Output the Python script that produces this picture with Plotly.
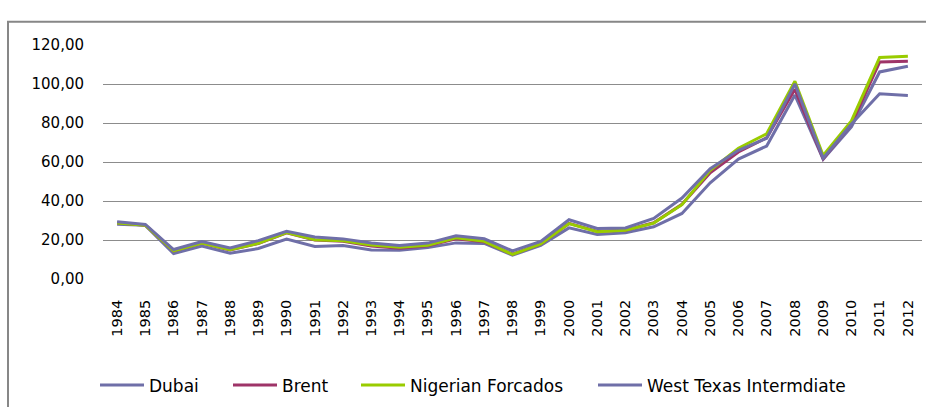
import plotly.graph_objects as go

years = [str(y) for y in range(1984, 2013)]

dubai = [28.06, 27.53, 13.10, 16.95, 13.27, 15.62, 20.45, 16.63, 17.17, 14.93,
         14.74, 16.10, 18.52, 18.23, 12.21, 17.25, 26.20, 22.81, 23.74, 26.78,
         33.64, 49.35, 61.50, 68.19, 94.34, 61.39, 78.06, 106.18, 109.08]
brent = [28.78, 27.56, 14.43, 18.44, 14.92, 18.23, 23.73, 20.00, 19.32, 16.97,
         15.82, 17.02, 20.67, 19.09, 12.72, 17.97, 28.50, 24.44, 25.02, 28.83,
         38.27, 54.52, 65.14, 72.39, 97.26, 61.67, 79.50, 111.26, 111.67]
nigerian = [28.74, 27.61, 14.46, 18.39, 15.00, 18.30, 23.85, 20.11, 19.61, 17.41,
            16.25, 17.26, 21.16, 19.33, 12.62, 18.00, 28.42, 24.23, 25.04, 28.66,
            38.13, 55.69, 67.07, 74.48, 101.43, 63.35, 81.05, 113.65, 114.21]
wti = [29.39, 27.98, 15.10, 19.18, 15.97, 19.68, 24.50, 21.54, 20.57, 18.45,
       17.21, 18.42, 22.16, 20.61, 14.39, 19.31, 30.37, 25.93, 26.16, 31.07,
       41.49, 56.59, 66.02, 72.20, 100.06, 61.92, 79.45, 95.04, 94.13]

series_names = ["Dubai", "Brent", "Nigerian Forcados", "West Texas Intermdiate"]
series_values = [dubai, brent, nigerian, wti]
series_colors = ["#6F6FA8", "#9E3468", "#99CC00", "#6F6FA8"]

FONT = "DejaVu Sans"
W, H = 926, 407
L, R, T, B = 103, 4, 45, 120
pw = W - L - R
ph = H - T - B

legend_ids = ["legend", "legend2", "legend3", "legend4"]
legend_px = [95, 228, 356, 593]
legend_y = (H - B - 397) / ph

fig = go.Figure()
for name, vals, col, lid in zip(series_names, series_values, series_colors, legend_ids):
    fig.add_trace(go.Scatter(x=years, y=vals, name=name, mode="lines",
                             legend=lid, line=dict(color=col, width=3)))

legend_layouts = {}
for lid, px in zip(legend_ids, legend_px):
    legend_layouts[lid] = dict(orientation="h", x=(px - L) / pw, xanchor="left",
                               y=legend_y, yanchor="middle",
                               font=dict(family=FONT, size=17, color="black"),
                               itemwidth=44, bgcolor="rgba(0,0,0,0)")

fig.update_layout(
    width=W, height=H,
    margin=dict(l=L, r=R, t=T, b=B, pad=0),
    paper_bgcolor="white", plot_bgcolor="white",
    separators=",.",
    font=dict(family=FONT, color="black"),
    showlegend=True,
    xaxis=dict(type="category", tickangle=-90, showgrid=False, zeroline=False,
               showline=False, ticks="", ticklabelstandoff=17,
               tickfont=dict(family=FONT, size=14.5, color="black"),
               range=[-0.5, len(years) - 0.5]),
    yaxis=dict(range=[0, 120], dtick=20, tick0=0, tickformat=".2f",
               showgrid=True, gridcolor="#8c8c8c", gridwidth=1.2,
               zeroline=False, showline=False, ticks="", ticklabelstandoff=18,
               tickfont=dict(family=FONT, size=15, color="black")),
    shapes=[dict(type="rect", xref="paper", yref="paper",
                 x0=(8 - L) / pw, x1=1.2, y0=-1.0, y1=(H - B - 21) / ph,
                 line=dict(color="#878787", width=2), fillcolor="rgba(0,0,0,0)")],
    **legend_layouts,
)

fig.write_html("out.html", config={"displayModeBar": False},
               post_script="document.body.style.margin='0px';")
